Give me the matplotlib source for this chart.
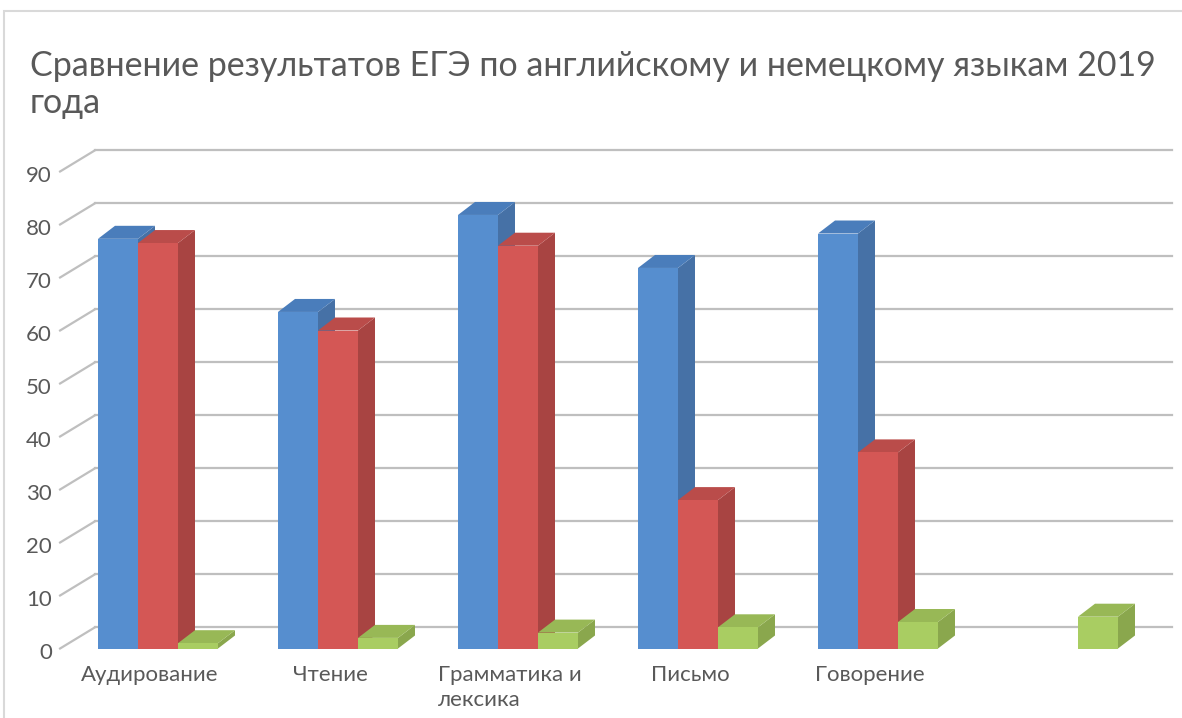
import matplotlib
matplotlib.use("Agg")
import matplotlib.pyplot as plt
from matplotlib.patches import Polygon, Rectangle

plt.rcParams['font.family'] = ['Lato', 'DejaVu Sans']

categories = ['Аудирование', 'Чтение', 'Грамматика и\nлексика', 'Письмо', 'Говорение', '']
english = [77.3, 63.5, 81.8, 71.8, 78.3]
german = [76.5, 60.0, 76.0, 28.0, 37.0]
series3 = [1, 2, 3, 4, 5, 6]
yticks = list(range(0, 100, 10))

title = 'Сравнение результатов ЕГЭ по английскому и немецкому языкам 2019\nгода'

blue = ('#568ECF', '#4A7DBB', '#4671A6')
red = ('#D45755', '#BA4C4A', '#A84442')
green = ('#A9CD62', '#98B856', '#8AA74D')
text_c = '#595959'
grid_c = '#BFBFBF'

W, H = 1182, 718
fig = plt.figure(figsize=(W / 100, H / 100), dpi=100)
ax = fig.add_axes([0, 0, 1, 1])
ax.set_axis_off()

# pixel scale: 180 px per category, 5.3 px per value unit, zero at 648.5 px
ax.set_xlim(-158 / 180, (W - 158) / 180)
ax.set_ylim(-(H - 648.5) / 5.3, 648.5 / 5.3)

bw = 40 / 180          # bar width
bdx, bdy = 17 / 180, 13 / 5.3   # bar depth
wx0, wx1 = -0.544, -0.35       # side wall front/back
wdy = 4.0
xend = (1172 - 158) / 180

# back wall grid + side wall diagonals
for v in yticks:
    ax.plot([wx1, xend], [v + wdy, v + wdy], color=grid_c, lw=1.6, zorder=1)
    ax.plot([wx0, wx1], [v, v + wdy], color=grid_c, lw=1.6, zorder=1)
    ax.text(-0.589, v - 0.8, str(v), ha='right', va='center', fontsize=16, color=text_c)


def bar3d(c, v, cols):
    front, top, side = cols
    l, r = c - bw / 2, c + bw / 2
    ax.add_patch(Polygon([(r, 0), (r + bdx, bdy), (r + bdx, v + bdy), (r, v)],
                         closed=True, fc=side, ec='none', zorder=3))
    ax.add_patch(Polygon([(l, v), (r, v), (r + bdx, v + bdy), (l + bdx, v + bdy)],
                         closed=True, fc=top, ec='none', zorder=3))
    ax.add_patch(Rectangle((l, 0), bw, v, fc=front, ec='none', zorder=3))


for i in range(len(categories)):
    if i < len(english):
        bar3d(i - bw, english[i], blue)
        bar3d(i, german[i], red)
    bar3d(i + bw, series3[i], green)
    ax.text(i - 8 / 180, -3.2, categories[i], ha='center', va='top',
            multialignment='left', fontsize=16, color=text_c, linespacing=1.3)

fig.text(30 / W, 1 - 50 / H, title, ha='left', va='top', fontsize=24.5,
         color=text_c, linespacing=1.2)

fig.patches.append(Rectangle((4 / W, -0.1), 1.2, 1 - 11 / H + 0.1,
                             transform=fig.transFigure, fill=False,
                             ec='#D9D9D9', lw=1.5))

fig.savefig('out.png', dpi=100, facecolor='white')
